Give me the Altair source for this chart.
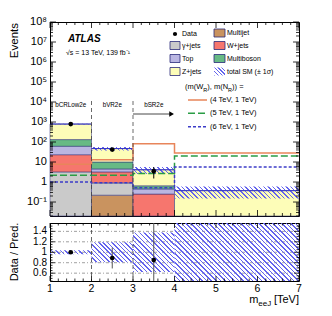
import math
import altair as alt
import pandas as pd

FONT = "Liberation Sans"
W, H_MAIN, H_RAT = 249, 194, 58
X_DOM = [1, 7]
Y_DOM = [0.02, 1e8]
R_DOM = [0.45, 1.56]

# ---------------- data ----------------
bin_lo = [1, 2, 3, 4]
bin_hi = [2, 3, 4, 7]
regions = ["bCRLow2e", "bVR2e", "bSR2e"]
region_x = [1.5, 2.5, 3.5]

processes = ["Multijet", "γ+jets", "W+jets", "Top", "Multiboson", "Z+jets"]
proc_colors = ["#c9935f", "#cacaca", "#f6766e", "#bab6e2", "#67ba85", "#fdfdb8"]
multijet = [0.0, 0.22, 0.0, 0.0]
gamma_jets = [3.2, 0.68, 0.0, 0.0]
w_jets = [20.0, 2.3, 0.25, 0.0]
top = [38.0, 1.3, 0.2, 0.0]
multiboson = [71.0, 5.5, 0.2, 0.0]
z_jets = [658.0, 37.0, 3.45, 0.37]
syst_rel = [0.04, 0.19, 0.38, 0.60]

data_x = [1.5, 2.5, 3.5]
data_y = [785.0, 42.0, 3.5]
data_lo = [757.0, 36.0, 1.5]
data_hi = [813.0, 49.0, 5.6]
ratio_y = [1.0, 0.89, 0.85]
ratio_lo = [0.97, 0.69, 0.30]
ratio_hi = [1.03, 1.09, 1.70]

sig_labels = ["(4 TeV, 1 TeV)", "(5 TeV, 1 TeV)", "(6 TeV, 1 TeV)"]
sig_colors = ["#e8855a", "#2a9d45", "#3c3cc8"]
sig_dash = [[1, 0], [7, 3], [3, 2]]
sig_4 = [7.7, 13.0, 83.0, 28.0]
sig_5 = [2.2, 2.2, 2.7, 20.0]
sig_6 = [1.0, 0.93, 0.52, 5.6]

y_tick_vals = [0.1, 1, 10, 1e2, 1e3, 1e4, 1e5, 1e6, 1e7, 1e8]
y_tick_labels = ["10⁻¹", "1", "10", "10²", "10³", "10⁴", "10⁵", "10⁶", "10⁷", "10⁸"]
x_tick_vals = [1, 2, 3, 4, 5, 6, 7]
x_tick_labels = ["1", "2", "3", "4", "5", "6", "7"]
r_tick_vals = [0.6, 0.8, 1.0, 1.2, 1.4]
r_tick_labels = ["0.6", "0.8", "1", "1.2", "1.4"]

NAVY = "#2a2a7a"
HATCH = "#6464ee"
DUMMY = pd.DataFrame({"d": [0]})


def xs():
    return alt.Scale(domain=X_DOM, nice=False, zero=False)


def ys():
    return alt.Scale(type="log", domain=Y_DOM, nice=False, clamp=True)


def rs():
    return alt.Scale(domain=R_DOM, nice=False, zero=False, clamp=True)


def hatch(wpx, hpx, spacing=3.2, frac=0.33):
    wpx = max(wpx, 1.0)
    hpx = max(hpx, 1.0)
    r = hpx / wpx
    a = (1 + r) / (1 + r * r)
    L = (wpx + hpx) / math.sqrt(2)
    n = max(1, int(round(L / spacing)))
    stops = []
    for i in range(n):
        o0, o1, o2 = i / n, (i + frac) / n, (i + 1) / n
        stops += [
            alt.GradientStop(offset=o0, color=HATCH),
            alt.GradientStop(offset=o1, color=HATCH),
            alt.GradientStop(offset=o1, color="rgba(255,255,255,0)"),
            alt.GradientStop(offset=o2, color="rgba(255,255,255,0)"),
        ]
    return alt.LinearGradient(gradient="linear", stops=stops, x1=0, y1=1, x2=a, y2=1 - a * r)


def txt(s, x, y, size=7, align="left", baseline="middle", **kw):
    return alt.Chart(DUMMY).mark_text(
        align=align, baseline=baseline, fontSize=size, font=FONT, color="black", **kw
    ).encode(x=alt.value(x), y=alt.value(y), text=alt.value(s))


HW = {" ": 278, "(": 333, ")": 333, ",": 278, "=": 584, "m": 833, "W": 944,
      "N": 722, "R": 722, "e": 556, "J": 500, "[": 278, "]": 278, "T": 611, "V": 667}


def tw(s, size):
    return sum(HW.get(c, 556) for c in s) * size / 1000.0


def yticks(vals, length, scale, wd):
    df = pd.DataFrame({"v": vals})
    out = []
    for xa, xb in [(0, length), (wd - length, wd)]:
        out.append(alt.Chart(df).mark_rule(color="black", strokeWidth=0.8).encode(
            y=alt.Y("v:Q", scale=scale, axis=None), x=alt.value(xa), x2=alt.value(xb)))
    return out


def xticks(vals, length, hd):
    df = pd.DataFrame({"v": vals})
    out = []
    for ya, yb in [(0, length), (hd - length, hd)]:
        out.append(alt.Chart(df).mark_rule(color="black", strokeWidth=0.8).encode(
            x=alt.X("v:Q", scale=xs(), axis=None), y=alt.value(ya), y2=alt.value(yb)))
    return out


def ylabels(vals, labels, scale, size):
    df = pd.DataFrame({"v": vals, "t": labels})
    return alt.Chart(df).mark_text(align="right", baseline="middle", fontSize=size,
                                   font=FONT, color="black").encode(
        y=alt.Y("v:Q", scale=scale, axis=None), x=alt.value(-3), text="t:N")


comps = [multijet, gamma_jets, w_jets, top, multiboson, z_jets]
totals = [sum(c[i] for c in comps) for i in range(4)]

rows = []
for i in range(4):
    cum = 0.0
    for vals, col in zip(comps, proc_colors):
        v = vals[i]
        if v <= 0:
            continue
        lo = cum if cum > 0 else 1e-3
        cum += v
        rows.append(dict(x1=bin_lo[i], x2=bin_hi[i], y1=lo, y2=cum, color=col))
stack_df = pd.DataFrame(rows)

stack = alt.Chart(stack_df).mark_rect(stroke=NAVY, strokeWidth=0.5).encode(
    x=alt.X("x1:Q", scale=xs(), axis=None), x2="x2:Q",
    y=alt.Y("y1:Q", scale=ys(), axis=None), y2="y2:Q",
    fill=alt.Fill("color:N", scale=None),
)

ppd = H_MAIN / math.log10(Y_DOM[1] / Y_DOM[0])
bands = []
rbands = []
for i in range(4):
    lo = totals[i] * (1 - syst_rel[i])
    hi = totals[i] * (1 + syst_rel[i])
    wpx = W * (bin_hi[i] - bin_lo[i]) / (X_DOM[1] - X_DOM[0])
    hpx = ppd * math.log10(min(hi, Y_DOM[1]) / max(lo, Y_DOM[0]))
    df = pd.DataFrame({"x1": [bin_lo[i]], "x2": [bin_hi[i]], "lo": [lo], "hi": [hi]})
    bands.append(alt.Chart(df).mark_rect(fill=hatch(wpx, hpx), strokeWidth=0).encode(
        x=alt.X("x1:Q", scale=xs(), axis=None), x2="x2:Q",
        y=alt.Y("lo:Q", scale=ys(), axis=None), y2="hi:Q"))
    rlo = max(1 - syst_rel[i], R_DOM[0])
    rhi = min(1 + syst_rel[i], R_DOM[1])
    rh = H_RAT * (rhi - rlo) / (R_DOM[1] - R_DOM[0])
    rdf = pd.DataFrame({"x1": [bin_lo[i]], "x2": [bin_hi[i]], "lo": [rlo], "hi": [rhi]})
    rbands.append(alt.Chart(rdf).mark_rect(fill=hatch(wpx, rh), strokeWidth=0).encode(
        x=alt.X("x1:Q", scale=xs(), axis=None), x2="x2:Q",
        y=alt.Y("lo:Q", scale=rs(), axis=None), y2="hi:Q"))

tot_df = pd.DataFrame({"x1": bin_lo, "x2": bin_hi, "t": totals})
totline = alt.Chart(tot_df).mark_rule(color="#3434c4", strokeWidth=1).encode(
    x=alt.X("x1:Q", scale=xs(), axis=None), x2="x2:Q",
    y=alt.Y("t:Q", scale=ys(), axis=None))

sig_layers = []
for vals, col, dash in zip([sig_4, sig_5, sig_6], sig_colors, sig_dash):
    df = pd.DataFrame({"x": bin_lo + [bin_hi[-1]], "y": vals + [vals[-1]]})
    sig_layers.append(alt.Chart(df).mark_line(
        interpolate="step-after", color=col, strokeWidth=1.5, strokeDash=dash).encode(
        x=alt.X("x:Q", scale=xs(), axis=None), y=alt.Y("y:Q", scale=ys(), axis=None)))

d_df = pd.DataFrame({"x": data_x, "y": data_y, "lo": data_lo, "hi": data_hi})
err = alt.Chart(d_df).mark_rule(color="black", strokeWidth=1).encode(
    x=alt.X("x:Q", scale=xs(), axis=None),
    y=alt.Y("lo:Q", scale=ys(), axis=None), y2="hi:Q")
pts = alt.Chart(d_df).mark_circle(size=22, color="black", opacity=1).encode(
    x=alt.X("x:Q", scale=xs(), axis=None), y=alt.Y("y:Q", scale=ys(), axis=None))

vl_df = pd.DataFrame({"x": [2, 3]})
vlines = alt.Chart(vl_df).mark_rule(color="#444444", strokeWidth=0.8, strokeDash=[4, 3]).encode(
    x=alt.X("x:Q", scale=xs(), axis=None), y=alt.value(79), y2=alt.value(H_MAIN))

arr_df = pd.DataFrame({"x": [3.0], "x2": [3.93]})
arrow = alt.Chart(arr_df).mark_rule(color="#333333", strokeWidth=0.9).encode(
    x=alt.X("x:Q", scale=xs(), axis=None), x2="x2:Q", y=alt.value(92))
arrow_head = alt.Chart(arr_df).mark_point(
    shape="triangle-right", filled=True, size=30, color="black", opacity=1).encode(
    x=alt.X("x2:Q", scale=xs(), axis=None), y=alt.value(92))

reg_df = pd.DataFrame({"x": region_x, "t": regions})
reg_text = alt.Chart(reg_df).mark_text(fontSize=6.3, font=FONT, color="black", baseline="middle").encode(
    x=alt.X("x:Q", scale=xs(), axis=None), y=alt.value(83), text="t:N")

# ---------------- legend ----------------
legend = []
legend.append(alt.Chart(DUMMY).mark_circle(size=18, color="black", opacity=1).encode(
    x=alt.value(125), y=alt.value(12)))
legend.append(txt("Data", 132, 12))
col1 = [("γ+jets", proc_colors[1]), ("Top", proc_colors[3]), ("Z+jets", proc_colors[5])]
col2 = [("Multijet", proc_colors[0]), ("W+jets", proc_colors[2]), ("Multiboson", proc_colors[4])]
for (lab, col), yy in zip(col1, [23.5, 36.5, 49.5]):
    legend.append(alt.Chart(DUMMY).mark_rect(fill=col, stroke=NAVY, strokeWidth=0.8).encode(
        x=alt.value(120), x2=alt.value(130), y=alt.value(yy - 4), y2=alt.value(yy + 4)))
    legend.append(txt(lab, 132, yy))
for (lab, col), yy in zip(col2, [11.0, 23.5, 36.5]):
    legend.append(alt.Chart(DUMMY).mark_rect(fill=col, stroke=NAVY, strokeWidth=0.8).encode(
        x=alt.value(164), x2=alt.value(175), y=alt.value(yy - 4), y2=alt.value(yy + 4)))
    legend.append(txt(lab, 177, yy))
legend.append(alt.Chart(DUMMY).mark_rect(fill=hatch(11, 8, spacing=2.6), strokeWidth=0).encode(
    x=alt.value(164), x2=alt.value(175), y=alt.value(45.5), y2=alt.value(53.5)))
legend.append(txt("total SM (± 1σ)", 177, 49.5))

fs, fsub = 7.5, 5.5
pieces = [("(m(W", False), ("R", True), ("), m(N", False), ("R", True), (")) =", False)]
cx = 135.0
for s, sub in pieces:
    if sub:
        legend.append(txt(s, cx, 67.5, size=fsub))
        cx += tw(s, fsub)
    else:
        legend.append(txt(s, cx, 65, size=fs))
        cx += tw(s, fs)

for lab, col, dash, yy in zip(sig_labels, sig_colors, sig_dash, [78, 91.3, 104.7]):
    legend.append(alt.Chart(DUMMY).mark_rule(color=col, strokeWidth=1.5, strokeDash=dash).encode(
        x=alt.value(138), x2=alt.value(157), y=alt.value(yy)))
    legend.append(txt(lab, 160, yy, size=fs))

annot = [
    txt("ATLAS", 18, 17, size=10, fontWeight="bold", fontStyle="italic"),
    txt("√s = 13 TeV, 139 fb⁻¹", 16, 31, size=7),
    txt("Events", -41, 1, size=11.5, align="right", baseline="top", angle=270),
    ylabels(y_tick_vals, y_tick_labels, ys(), 11),
]

# ---------------- ticks ----------------
y_minor = [m * 10.0 ** k for k in range(-2, 8) for m in range(2, 10) if Y_DOM[0] <= m * 10.0 ** k <= Y_DOM[1]]
x_minor = [round(1 + 0.2 * i, 2) for i in range(31) if i % 5 != 0]
main_ticks = (yticks(y_tick_vals, 6, ys(), W) + yticks(y_minor, 3, ys(), W)
              + xticks(x_tick_vals, 6, H_MAIN) + xticks(x_minor, 3, H_MAIN))

main = alt.layer(
    stack, *bands, totline, *sig_layers, vlines, arrow, arrow_head, reg_text,
    err, pts, *legend, *annot, *main_ticks
).properties(width=W, height=H_MAIN)

# ---------------- ratio panel ----------------
r_minor = [round(0.45 + 0.05 * i, 2) for i in range(23)]
r_minor = [v for v in r_minor if all(abs(v - m) > 1e-6 for m in r_tick_vals) and v <= 1.55]

grid_df = pd.DataFrame({"v": r_tick_vals})
grid = alt.Chart(grid_df).mark_rule(color="#777777", strokeWidth=0.7, strokeDash=[3, 2, 1, 2]).encode(
    y=alt.Y("v:Q", scale=rs(), axis=None), x=alt.value(0), x2=alt.value(W))

xl_df = pd.DataFrame({"v": x_tick_vals, "t": x_tick_labels})
xlabels = alt.Chart(xl_df).mark_text(align="center", baseline="top", fontSize=10.5,
                                     font=FONT, color="black").encode(
    x=alt.X("v:Q", scale=xs(), axis=None), y=alt.value(H_RAT + 3), text="t:N")

rvlines = alt.Chart(vl_df).mark_rule(color="#444444", strokeWidth=0.8, strokeDash=[4, 3]).encode(
    x=alt.X("x:Q", scale=xs(), axis=None), y=alt.value(0), y2=alt.value(H_RAT))

r_df = pd.DataFrame({"x": data_x, "y": ratio_y, "lo": ratio_lo, "hi": ratio_hi})
rerr = alt.Chart(r_df).mark_rule(color="#555555", strokeWidth=1).encode(
    x=alt.X("x:Q", scale=xs(), axis=None),
    y=alt.Y("lo:Q", scale=rs(), axis=None), y2="hi:Q")
rpts = alt.Chart(r_df).mark_circle(size=22, color="black", opacity=1).encode(
    x=alt.X("x:Q", scale=xs(), axis=None), y=alt.Y("y:Q", scale=rs(), axis=None))

xt_right = W
xt = [txt("[TeV]", xt_right, 80, size=11, align="right", baseline="alphabetic")]
xt_right -= tw("[TeV]", 11) + 1.5
xt.append(txt("eeJ", xt_right, 82.5, size=8, align="right", baseline="alphabetic"))
xt_right -= tw("eeJ", 8)
xt.append(txt("m", xt_right, 80, size=11, align="right", baseline="alphabetic"))

r_annot = [
    txt("Data / Pred.", -41, H_RAT / 2, size=11, align="center", baseline="top", angle=270),
    ylabels(r_tick_vals, r_tick_labels, rs(), 10),
    xlabels,
]

ratio_ticks = (yticks(r_tick_vals, 5, rs(), W) + yticks(r_minor, 2.5, rs(), W)
               + xticks(x_tick_vals, 5, H_RAT) + xticks(x_minor, 2.5, H_RAT))

ratio = alt.layer(
    grid, *rbands, rvlines, rerr, rpts, *xt, *r_annot, *ratio_ticks
).properties(width=W, height=H_RAT)

chart = alt.vconcat(main, ratio, spacing=5).properties(
    padding={"left": 0, "top": 7, "right": 5, "bottom": 5}
).configure_view(stroke="black", strokeWidth=1).configure_text(font=FONT)

chart.save("out.html", embed_options={"renderer": "svg", "actions": False})
